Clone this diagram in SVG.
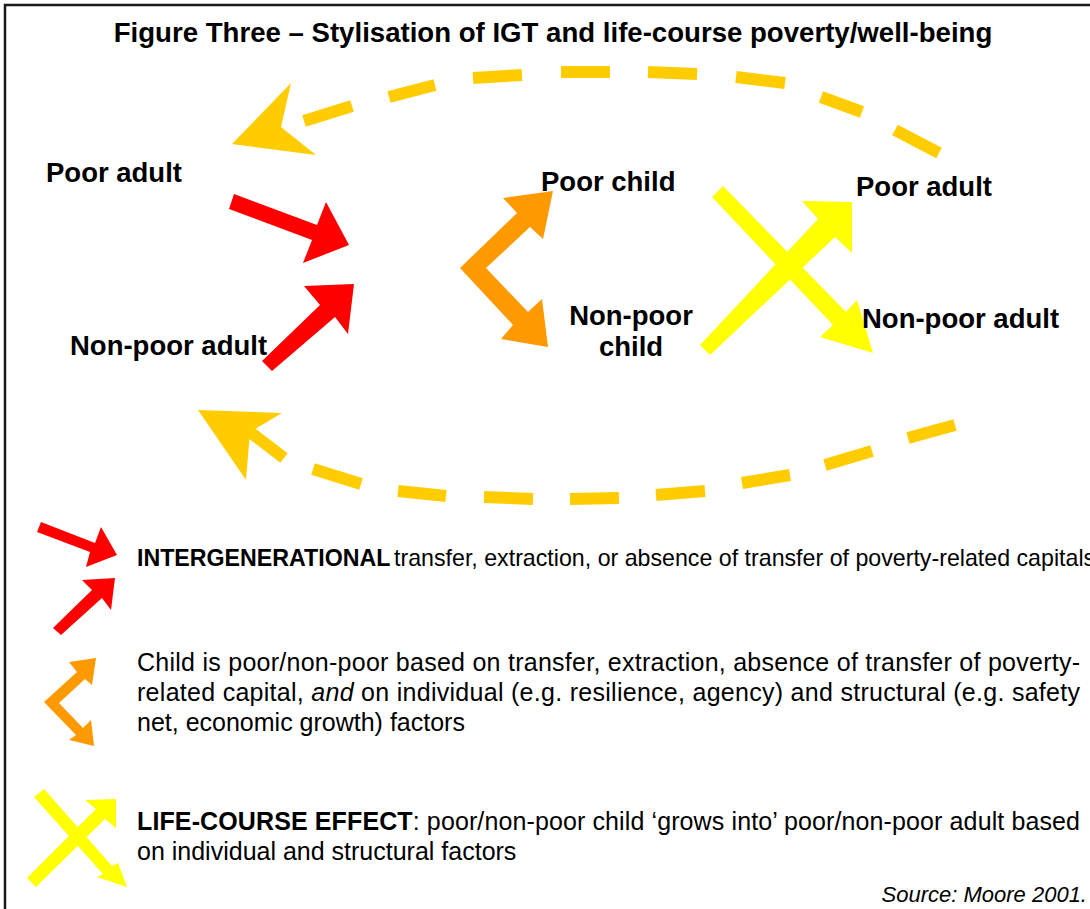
<svg xmlns="http://www.w3.org/2000/svg" width="1090" height="909" viewBox="0 0 1090 909">
<style>
.t{font-family:"Liberation Sans",Arial,sans-serif;fill:#000}
.b{font-weight:bold;font-size:27.5px}
.lg{font-size:25px}
.red{fill:#FF0000}
.org{fill:#FF9900}
.yel{fill:#FFFF00}
.gold{fill:#FFCC00}
.dash{fill:none;stroke:#FFCC00;stroke-width:12;stroke-linecap:butt}
</style>
<rect x="0" y="0" width="1090" height="909" fill="#fff"/>
<path d="M5,909 V5 H1090" fill="none" stroke="#1a1a1a" stroke-width="2.5"/>
<text class="t" x="553" y="42" text-anchor="middle" font-weight="bold" font-size="27.6px">Figure Three – Stylisation of IGT and life-course poverty/well-being</text>

<g id="connectors">
  <g id="top-loop">
    <path class="dash" d="M304,121 L352,106 M389,97 L435,85 M473,78 L522,75 M561,72 L610,72 M648,72 L697,74 M736,77 L785,83 M821,97 L862,112 M895,130 L939,153"/>
    <polygon class="gold" points="291,83 281,127 316,155 232,144"/>
  </g>
  <g id="bottom-loop">
    <path class="dash" d="M250,432 L284,458 M313,469 L361,484 M398,491 L446,496 M484,497 L533,499 M570,499 L619,498 M656,495 L705,491 M742,483 L790,475 M825,465 L872,451 M908,438 L955,425"/>
    <polygon class="gold" points="198,410 282,413 250,432 246,480"/>
  </g>
  <g id="igt-arrows">
    <polygon class="red" points="234,194 317,225 326,202 349,245 303,263 312,240 229,209"/>
    <polygon class="red" points="262,361 320,305 304,286 354,284 348,334 335,317 272,371"/>
  </g>
  <g id="child-arrows">
    <polygon class="org" points="460,268 517,213 503,198 553,191 543,239 530,227 486,268 528,312 542,299 548,347 501,339 513,325"/>
  </g>
  <g id="life-course-arrows">
    <polygon class="yel" points="723,186 846,312 857,300 873,353 820,337 833,325 712,197"/>
    <polygon class="yel" points="700,345 818,219 802,201 852,202 852,253 835,237 710,355"/>
  </g>
</g>

<g id="node-poor-adult-left"><text class="t b" x="46" y="182">Poor adult</text></g>
<g id="node-nonpoor-adult-left"><text class="t b" x="70" y="355">Non-poor adult</text></g>
<g id="node-poor-child"><text class="t b" x="541" y="191">Poor child</text></g>
<g id="node-nonpoor-child"><text class="t b" x="631" y="325" text-anchor="middle">Non-poor</text><text class="t b" x="631" y="356" text-anchor="middle">child</text></g>
<g id="node-poor-adult-right"><text class="t b" x="856" y="196">Poor adult</text></g>
<g id="node-nonpoor-adult-right"><text class="t b" x="862" y="328">Non-poor adult</text></g>

<g id="legend-igt">
  <polygon class="red" points="41,522 95,543 101,527 117,555 86,567 90,552 37,532"/>
  <polygon class="red" points="53,628 92,590 82,580 115,578 111,610 102,598 61,635"/>
  <text class="t" x="137" y="566" font-size="23.2px" font-weight="bold">INTERGENERATIONAL</text>
  <text class="t" x="394" y="566" font-size="23.2px">transfer, extraction, or absence of transfer of poverty-related capitals</text>
</g>
<g id="legend-child">
  <polygon class="org" points="44,702 77,672 69,662 96,658 92,685 85,679 59,703 83,728 91,720 94,746 69,740 76,735"/>
  <text class="t lg" x="137" y="671" textLength="943" lengthAdjust="spacing">Child is poor/non-poor based on transfer, extraction, absence of transfer of poverty-</text>
  <text class="t lg" x="137" y="701" textLength="943" lengthAdjust="spacing">related capital, <tspan font-style="italic">and</tspan> on individual (e.g. resilience, agency) and structural (e.g. safety</text>
  <text class="t lg" x="137" y="731">net, economic growth) factors</text>
</g>
<g id="legend-life-course">
  <polygon class="yel" points="44,789 112,866 118,863 127,887 97,877 103,874 34,797"/>
  <polygon class="yel" points="27,878 96,809 85,800 116,799 116,828 105,819 36,887"/>
  <text class="t lg" x="137" y="830" textLength="943" lengthAdjust="spacing"><tspan font-weight="bold">LIFE-COURSE EFFECT</tspan>: poor/non-poor child ‘grows into’ poor/non-poor adult based</text>
  <text class="t lg" x="137" y="860">on individual and structural factors</text>
</g>
<text class="t" x="1087" y="902" font-size="22px" font-style="italic" text-anchor="end">Source: Moore 2001.</text>
</svg>
